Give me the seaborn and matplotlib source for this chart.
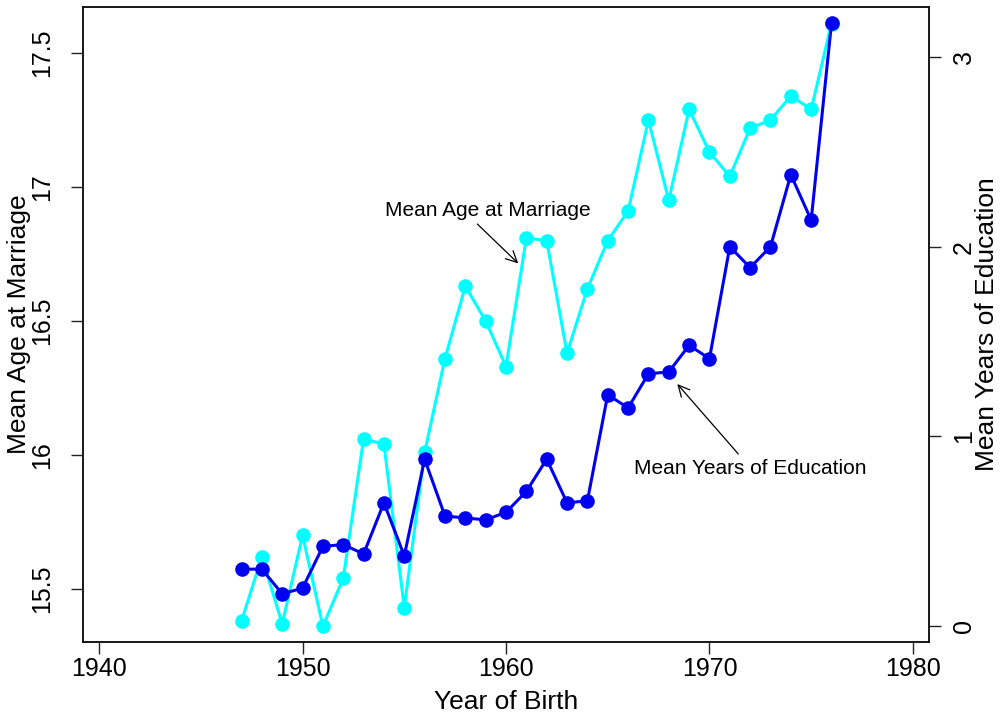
import matplotlib
matplotlib.use("Agg")
import matplotlib.pyplot as plt
import numpy as np
import pandas as pd
import seaborn as sns

# data
years = list(range(1947, 1977))
age_at_marriage = [
    15.38, 15.62, 15.37, 15.70, 15.36, 15.54, 16.06, 16.04, 15.43, 16.01,
    16.36, 16.63, 16.50, 16.33, 16.81, 16.80, 16.38, 16.62, 16.80, 16.91,
    17.25, 16.95, 17.29, 17.13, 17.04, 17.22, 17.25, 17.34, 17.29, 17.61,
]
years_education = [
    0.30, 0.30, 0.17, 0.20, 0.42, 0.43, 0.38, 0.65, 0.37, 0.88,
    0.58, 0.57, 0.56, 0.60, 0.71, 0.88, 0.65, 0.66, 1.22, 1.15,
    1.33, 1.34, 1.48, 1.41, 2.00, 1.89, 2.00, 2.38, 2.14, 3.18,
]
x_ticks = [1940, 1950, 1960, 1970, 1980]
left_ticks = [15.5, 16, 16.5, 17, 17.5]
left_ticklabels = ["15.5", "16", "16.5", "17", "17.5"]
right_ticks = [0, 1, 2, 3]

df = pd.DataFrame({
    "year": years,
    "age": age_at_marriage,
    "edu": years_education,
})

sns.set_style("ticks")
plt.rcParams["font.family"] = ["Liberation Sans", "DejaVu Sans"]
plt.rcParams["text.color"] = "black"
plt.rcParams["axes.labelcolor"] = "black"
plt.rcParams["xtick.color"] = "black"
plt.rcParams["ytick.color"] = "black"

fig = plt.figure(figsize=(10.03, 7.19), dpi=100)
ax = fig.add_axes([0.0828, 0.1071, 0.9262 - 0.0828, 0.9903 - 0.1071])
ax2 = ax.twinx()

sns.lineplot(data=df, x="year", y="age", ax=ax, color="cyan",
             marker="o", markersize=10.5, markeredgewidth=0,
             linewidth=2.2, sort=False, errorbar=None)
sns.lineplot(data=df, x="year", y="edu", ax=ax2, color="#0000F0",
             marker="o", markersize=10.5, markeredgewidth=0,
             linewidth=2.2, sort=False, errorbar=None)

ax.set_xlim(1939.21, 1980.79)
ax.set_ylim(15.302, 17.672)
ax2.set_ylim(-0.084, 3.264)

ax.set_xticks(x_ticks)
ax.set_xticklabels([str(t) for t in x_ticks])
ax.set_yticks(left_ticks)
ax.set_yticklabels(left_ticklabels, rotation=90, va="center")
ax2.set_yticks(right_ticks)
ax2.set_yticklabels([str(t) for t in right_ticks], rotation=90, va="center")

for a in (ax, ax2):
    a.grid(False)
    for s in a.spines.values():
        s.set_visible(True)
        s.set_color("#111111")
        s.set_linewidth(1.1)
    a.tick_params(length=8.5, width=1.0, color="#222222",
                  labelcolor="black", labelsize=18)

ax.tick_params(axis="x", pad=2)
ax.tick_params(axis="y", pad=12)
ax2.tick_params(axis="y", pad=8)

ax.set_xlabel("Year of Birth", fontsize=19, labelpad=7)
ax.set_ylabel("Mean Age at Marriage", fontsize=19)
ax2.set_ylabel("Mean Years of Education", fontsize=19, rotation=90)
ax.yaxis.set_label_coords(-0.076, 0.5)
ax2.yaxis.set_label_coords(1.0686, 0.5)
ax.yaxis.label.set_va("center")
ax2.yaxis.label.set_va("center")

# annotations
ax.text(1959.09, 16.914, "Mean Age at Marriage", fontsize=15,
        ha="center", va="center")
ax.annotate("", xy=(1960.60, 16.715), xytext=(1958.59, 16.862),
            arrowprops=dict(arrowstyle="->", color="black", lw=0.9,
                            mutation_scale=20, shrinkA=0, shrinkB=0))
ax2.text(1972.01, 0.831, "Mean Years of Education", fontsize=15,
         ha="center", va="center")
ax2.annotate("", xy=(1968.42, 1.276), xytext=(1971.42, 0.907),
             arrowprops=dict(arrowstyle="->", color="black", lw=0.9,
                             mutation_scale=20, shrinkA=0, shrinkB=0))

fig.savefig("out.png", dpi=100)
